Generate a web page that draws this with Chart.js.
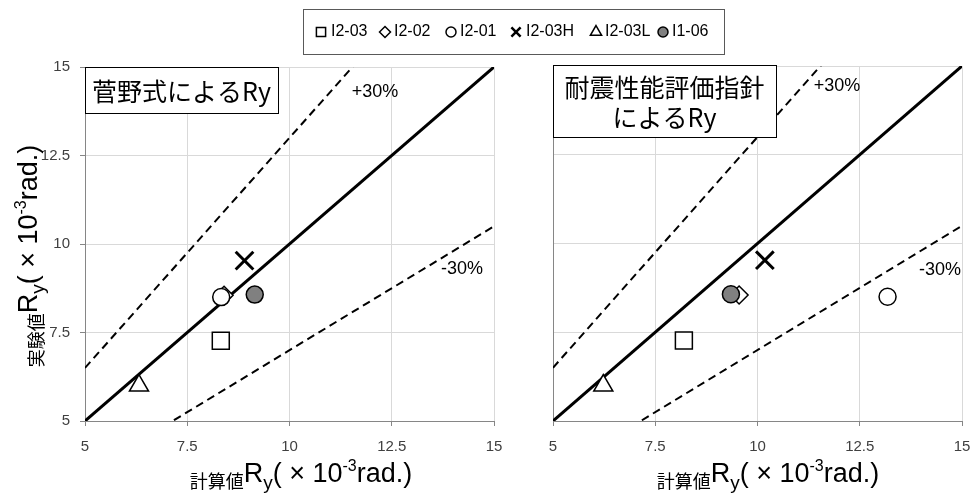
<!DOCTYPE html>
<html>
<head>
<meta charset="utf-8">
<script src="https://cdn.jsdelivr.net/npm/chart.js@4.4.1/dist/chart.umd.min.js"></script>
<style>
  html, body { margin: 0; padding: 0; background: #fff; }
  #wrap { position: relative; width: 971px; height: 493px; }
  #wrap canvas { position: absolute; left: 0; top: 0; }
</style>
</head>
<body>
<div id="wrap">
  <canvas id="sugano" width="971" height="493"></canvas>
  <canvas id="guide" width="971" height="493"></canvas>
</div>
<script>
// Specimens
const specimens = ['I2-03', 'I2-02', 'I2-01', 'I2-03H', 'I2-03L', 'I1-06'];
// Experimental yield drift angle Ry (x10^-3 rad), shared by both panels
const testRy = [7.27, 8.55, 8.50, 9.53, 6.00, 8.57];
// Calculated Ry by Sugano's formula
const suganoRy = [8.32, 8.40, 8.33, 8.90, 6.32, 9.15];
// Calculated Ry by the seismic evaluation guideline
const guideRy = [8.20, 9.55, 13.18, 10.18, 6.23, 9.35];

// Axis ticks (both axes, both panels)
const tickValues = [5, 7.5, 10, 12.5, 15];

// Reference lines: 1:1 and ±30 %
const refX = [5, 15];
const unityY = [5, 15];
const plus30Y = [6.5, 19.5];
const minus30Y = [3.5, 10.5];

// Marker look per specimen
const markerStyle = ['rect', 'rectRot', 'circle', 'crossRot', 'triangle', 'circle'];
const markerRadius = [12, 9, 8.5, 12.5, 11, 8.5];
const markerFill = ['#ffffff', '#ffffff', '#ffffff', '#000000', '#ffffff', '#808080'];
const markerBorder = [1.5, 1.5, 1.5, 3, 1.5, 1.5];

const LATIN = '"Liberation Sans", Arial, sans-serif';
const CJK = '"Noto Sans CJK JP", "Noto Sans", sans-serif';

function pairs(xs, ys) { return xs.map((x, i) => ({ x: x, y: ys[i] })); }

function buildDatasets(calc) {
  const pts = specimens.map((name, i) => ({
    label: name,
    data: [{ x: calc[i], y: testRy[i] }],
    pointStyle: markerStyle[i],
    pointRadius: markerRadius[i],
    backgroundColor: markerFill[i],
    borderColor: '#000',
    borderWidth: markerBorder[i],
    showLine: false,
    order: specimens.length - i
  }));
  const line = (ys, w, dash) => ({
    label: '',
    data: pairs(refX, ys),
    showLine: true,
    pointRadius: 0,
    borderColor: '#000',
    borderWidth: w,
    borderDash: dash,
    clip: 0,
    order: 20
  });
  return [line(unityY, 3, []), line(plus30Y, 2, [8, 5]), line(minus30Y, 2, [8, 5])].concat(pts);
}

function richText(ctx, parts, cx, baseY, rotated) {
  ctx.save();
  ctx.translate(cx, baseY);
  if (rotated) ctx.rotate(-Math.PI / 2);
  let total = 0;
  parts.forEach(p => { ctx.font = p.font; p.w = ctx.measureText(p.t).width; total += p.w; });
  let x = -total / 2;
  ctx.textAlign = 'left';
  ctx.textBaseline = 'alphabetic';
  ctx.fillStyle = '#000';
  parts.forEach(p => { ctx.font = p.font; ctx.fillText(p.t, x, p.dy); x += p.w; });
  ctx.restore();
}

function axisTitle(head) {
  return [
    { t: head, font: '18px ' + CJK, dy: 6 },
    { t: 'R', font: '27px ' + LATIN, dy: 0 },
    { t: 'y', font: '19px ' + LATIN, dy: 7 },
    { t: '( × 10', font: '27px ' + LATIN, dy: 0 },
    { t: '-3', font: '16px ' + LATIN, dy: -11 },
    { t: 'rad.)', font: '27px ' + LATIN, dy: 0 }
  ];
}

function textBox(ctx, x, y, w, h, lines, size) {
  ctx.save();
  ctx.fillStyle = '#fff';
  ctx.fillRect(x, y, w, h);
  ctx.strokeStyle = '#000';
  ctx.lineWidth = 1;
  ctx.strokeRect(x + 0.5, y + 0.5, w, h);
  ctx.fillStyle = '#000';
  ctx.font = size + 'px ' + CJK;
  ctx.textAlign = 'center';
  ctx.textBaseline = 'middle';
  lines.forEach(l => ctx.fillText(l.t, x + w / 2, l.y));
  ctx.restore();
}

function plainText(ctx, t, x, y, size) {
  ctx.save();
  ctx.fillStyle = '#000';
  ctx.font = size + 'px ' + LATIN;
  ctx.textAlign = 'center';
  ctx.textBaseline = 'middle';
  ctx.fillText(t, x, y);
  ctx.restore();
}

function drawLegend(ctx) {
  ctx.save();
  ctx.fillStyle = '#fff';
  ctx.fillRect(304, 9, 421, 45);
  ctx.strokeStyle = '#595959';
  ctx.lineWidth = 1;
  ctx.strokeRect(303.5, 9.5, 421, 45);
  const markX = [321, 385, 451, 516, 596, 663];
  const textX = [331, 394, 460, 526, 605, 672];
  const legR = [6.5, 5.5, 5, 6.5, 6.5, 5];
  const cy = 32;
  specimens.forEach((name, i) => {
    ctx.save();
    ctx.fillStyle = markerFill[i];
    ctx.strokeStyle = '#000';
    ctx.lineWidth = i === 3 ? 2.5 : 1.5;
    Chart.helpers.drawPoint(ctx, { pointStyle: markerStyle[i], radius: legR[i], borderWidth: ctx.lineWidth, rotation: 0 }, markX[i], cy);
    ctx.restore();
    ctx.fillStyle = '#000';
    ctx.font = '16px ' + LATIN;
    ctx.textAlign = 'left';
    ctx.textBaseline = 'middle';
    ctx.fillText(name, textX[i], cy);
  });
  ctx.restore();
}

function scaleOpts(axisWidthOrHeight, isX, showTicks) {
  return {
    type: 'linear',
    min: 5,
    max: 15,
    afterBuildTicks: s => { s.ticks = tickValues.map(v => ({ value: v })); },
    ticks: {
      display: showTicks,
      font: { family: LATIN, size: 15 },
      color: '#404040',
      padding: isX ? 12 : 10,
      maxRotation: 0,
      autoSkip: false
    },
    grid: { color: '#d9d9d9', tickColor: '#868686', tickLength: 5, drawTicks: showTicks },
    border: { color: '#868686', width: 1 },
    afterFit: s => {
      if (isX) s.height = axisWidthOrHeight; else s.width = axisWidthOrHeight;
      // let end labels overhang instead of shrinking the plot area
      s.paddingLeft = 0; s.paddingRight = 0; s.paddingTop = 0; s.paddingBottom = 0;
    }
  };
}

const suganoDecor = {
  id: 'suganoDecor',
  afterDraw(chart) {
    const ctx = chart.ctx;
    drawLegend(ctx);
    textBox(ctx, 85, 67, 193, 46, [{ t: '菅野式によるRy', y: 91 }], 25);
    plainText(ctx, '+30%', 375, 92, 18);
    plainText(ctx, '-30%', 462, 269, 18);
    richText(ctx, axisTitle('計算値'), 301, 482, false);
    richText(ctx, axisTitle('実験値'), 37, 256, true);
  }
};

const guideDecor = {
  id: 'guideDecor',
  afterDraw(chart) {
    const ctx = chart.ctx;
    textBox(ctx, 553, 65, 223, 72, [{ t: '耐震性能評価指針', y: 87 }, { t: 'によるRy', y: 117 }], 25);
    plainText(ctx, '+30%', 837, 86, 18);
    plainText(ctx, '-30%', 940, 270, 18);
    richText(ctx, axisTitle('計算値'), 768, 482, false);
  }
};

function makeChart(id, calc, padding, yWidth, showYTicks, decor) {
  return new Chart(document.getElementById(id), {
    type: 'scatter',
    data: { datasets: buildDatasets(calc) },
    options: {
      responsive: false,
      animation: false,
      events: [],
      layout: { padding: padding, autoPadding: false },
      plugins: { legend: { display: false }, tooltip: { enabled: false } },
      scales: {
        x: scaleOpts(72, true, true),
        y: scaleOpts(yWidth, false, showYTicks)
      }
    },
    plugins: [decor]
  });
}

makeChart('sugano', suganoRy, { left: 0, top: 67, right: 477, bottom: 0 }, 85, true, suganoDecor);
makeChart('guide', guideRy, { left: 0, top: 66, right: 9, bottom: 0 }, 553, false, guideDecor);
</script>
</body>
</html>
